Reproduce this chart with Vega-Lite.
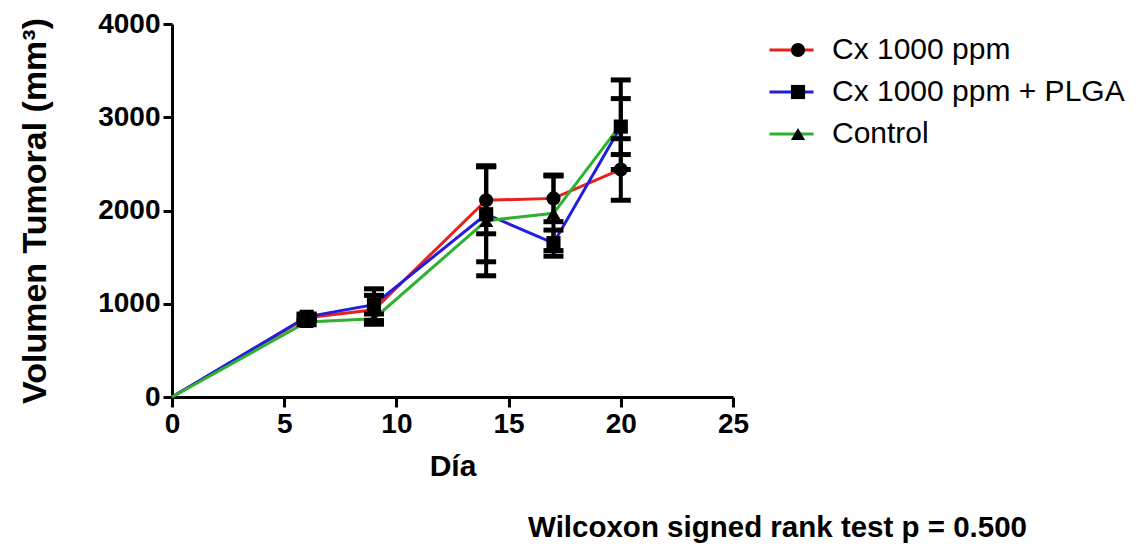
{
  "$schema": "https://vega.github.io/schema/vega-lite/v6.json",
  "width": 561,
  "height": 373,
  "autosize": {"type": "none"},
  "padding": {"left": 172, "top": 24, "right": 407, "bottom": 151},
  "background": "white",
  "config": {"view": {"stroke": null}, "font": "Liberation Sans"},
  "title": {
    "text": "Wilcoxon signed rank test p = 0.500",
    "orient": "bottom",
    "anchor": "end",
    "frame": "group",
    "dx": 294,
    "offset": 33,
    "font": "Liberation Sans",
    "fontSize": 29.5,
    "fontWeight": "bold",
    "color": "black"
  },
  "data": {
    "values": [
      {"dia": 0, "grupo": "Cx 1000 ppm", "vol": 0, "lo": 0, "hi": 0},
      {"dia": 6, "grupo": "Cx 1000 ppm", "vol": 850, "lo": 820, "hi": 880},
      {"dia": 9, "grupo": "Cx 1000 ppm", "vol": 935, "lo": 780, "hi": 1090},
      {"dia": 14, "grupo": "Cx 1000 ppm", "vol": 2110, "lo": 1750, "hi": 2470},
      {"dia": 17, "grupo": "Cx 1000 ppm", "vol": 2130, "lo": 1880, "hi": 2380},
      {"dia": 20, "grupo": "Cx 1000 ppm", "vol": 2440, "lo": 2110, "hi": 2770},
      {"dia": 0, "grupo": "Cx 1000 ppm + PLGA", "vol": 0, "lo": 0, "hi": 0},
      {"dia": 6, "grupo": "Cx 1000 ppm + PLGA", "vol": 860, "lo": 830, "hi": 890},
      {"dia": 9, "grupo": "Cx 1000 ppm + PLGA", "vol": 990, "lo": 820, "hi": 1160},
      {"dia": 14, "grupo": "Cx 1000 ppm + PLGA", "vol": 1960, "lo": 1450, "hi": 2470},
      {"dia": 17, "grupo": "Cx 1000 ppm + PLGA", "vol": 1650, "lo": 1510, "hi": 1790},
      {"dia": 20, "grupo": "Cx 1000 ppm + PLGA", "vol": 2900, "lo": 2600, "hi": 3200},
      {"dia": 0, "grupo": "Control", "vol": 0, "lo": 0, "hi": 0},
      {"dia": 6, "grupo": "Control", "vol": 805, "lo": 775, "hi": 835},
      {"dia": 9, "grupo": "Control", "vol": 840, "lo": 790, "hi": 890},
      {"dia": 14, "grupo": "Control", "vol": 1890, "lo": 1300, "hi": 2480},
      {"dia": 17, "grupo": "Control", "vol": 1970, "lo": 1570, "hi": 2370},
      {"dia": 20, "grupo": "Control", "vol": 2920, "lo": 2440, "hi": 3400}
    ]
  },
  "encoding": {
    "x": {
      "field": "dia",
      "type": "quantitative",
      "scale": {"domain": [0, 25], "nice": false},
      "axis": {
        "title": "Día",
        "values": [0, 5, 10, 15, 20, 25],
        "grid": false,
        "domainColor": "black",
        "domainWidth": 3,
        "tickColor": "black",
        "tickWidth": 3,
        "tickSize": 10,
        "labelFont": "Liberation Sans",
        "labelFontSize": 28,
        "labelFontWeight": "bold",
        "labelColor": "black",
        "labelPadding": 3,
        "labelFlush": false,
        "titleFont": "Liberation Sans",
        "titleFontSize": 30,
        "titleFontWeight": "bold",
        "titleColor": "black",
        "titlePadding": 13
      }
    }
  },
  "layer": [
    {
      "mark": {"type": "line", "strokeWidth": 3},
      "encoding": {
        "y": {
          "field": "vol",
          "type": "quantitative",
          "scale": {"domain": [0, 4000], "nice": false},
          "axis": {
            "title": "Volumen Tumoral (mm³)",
            "values": [0, 1000, 2000, 3000, 4000],
            "format": "d",
            "grid": false,
            "domainColor": "black",
            "domainWidth": 3,
            "tickColor": "black",
            "tickWidth": 3,
            "tickSize": 9,
            "labelFont": "Liberation Sans",
            "labelFontSize": 28,
            "labelFontWeight": "bold",
            "labelColor": "black",
            "labelPadding": 3,
            "labelFlush": false,
            "titleFont": "Liberation Sans",
            "titleFontSize": 34,
            "titleFontWeight": "bold",
            "titleColor": "black",
            "titlePadding": 45
          }
        },
        "color": {
          "field": "grupo",
          "type": "nominal",
          "scale": {
            "domain": ["Cx 1000 ppm", "Cx 1000 ppm + PLGA", "Control"],
            "range": ["#e6211e", "#1f1fdd", "#2fb02f"]
          },
          "legend": {
            "orient": "none",
            "legendX": 596,
            "legendY": 5,
            "title": null,
            "symbolType": "stroke",
            "symbolSize": 1936,
            "symbolStrokeWidth": 3,
            "labelFont": "Liberation Sans",
            "labelFontSize": 30,
            "labelColor": "black",
            "labelOffset": 17,
            "labelLimit": 400,
            "rowPadding": 0,
            "clipHeight": 42,
            "padding": 0
          }
        }
      }
    },
    {
      "transform": [{"filter": "datum.dia > 0"}],
      "mark": {"type": "rule", "color": "black", "strokeWidth": 4},
      "encoding": {
        "y": {"field": "lo", "type": "quantitative"},
        "y2": {"field": "hi"}
      }
    },
    {
      "transform": [{"filter": "datum.dia > 0"}],
      "mark": {"type": "tick", "orient": "horizontal", "color": "black", "size": 20, "thickness": 5, "opacity": 1},
      "encoding": {"y": {"field": "lo", "type": "quantitative"}}
    },
    {
      "transform": [{"filter": "datum.dia > 0"}],
      "mark": {"type": "tick", "orient": "horizontal", "color": "black", "size": 20, "thickness": 5, "opacity": 1},
      "encoding": {"y": {"field": "hi", "type": "quantitative"}}
    },
    {
      "transform": [{"filter": "datum.dia > 0"}],
      "mark": {"type": "point", "filled": true, "color": "black", "opacity": 1, "size": 200},
      "encoding": {
        "y": {"field": "vol", "type": "quantitative"},
        "shape": {
          "field": "grupo",
          "type": "nominal",
          "sort": ["Cx 1000 ppm", "Cx 1000 ppm + PLGA", "Control"],
          "scale": {"range": ["circle", "square", "triangle-up"]},
          "legend": {
            "orient": "none",
            "legendX": 611,
            "legendY": 5,
            "title": null,
            "symbolSize": 200,
            "symbolFillColor": "black",
            "symbolStrokeWidth": 0,
            "symbolOpacity": 1,
            "labelExpr": "''",
            "labelFont": "Liberation Sans",
            "labelFontSize": 30,
            "rowPadding": 0,
            "clipHeight": 42,
            "padding": 0
          }
        }
      }
    }
  ]
}
